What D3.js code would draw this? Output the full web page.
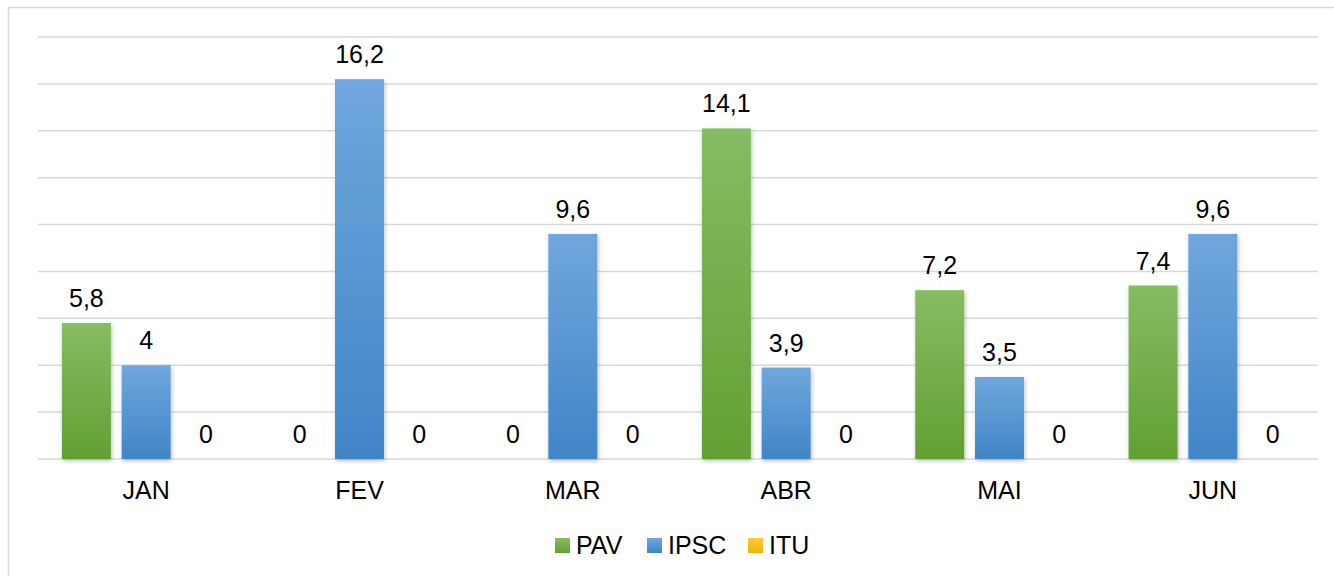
<!DOCTYPE html>
<html>
<head>
<meta charset="utf-8">
<script src="https://cdn.jsdelivr.net/npm/d3@7"></script>
<style>
  body { margin: 0; background: #fff; }
  svg { display: block; font-family: 'Liberation Sans', Arial, sans-serif; }
</style>
</head>
<body>
<div id="chart-area"></div>
<script>
// data
var months = ['JAN', 'FEV', 'MAR', 'ABR', 'MAI', 'JUN'];
var series = ['PAV', 'IPSC', 'ITU'];
var pav  = [5.8, 0, 0, 14.1, 7.2, 7.4];
var ipsc = [4, 16.2, 9.6, 3.9, 3.5, 9.6];
var itu  = [0, 0, 0, 0, 0, 0];
var yTicks = [0, 2, 4, 6, 8, 10, 12, 14, 16, 18];

var values = { PAV: pav, IPSC: ipsc, ITU: itu };
var colors = {
  PAV:  ['#86bc63', '#62a033'],
  IPSC: ['#70a7dd', '#4085c7'],
  ITU:  ['#ffcb3c', '#f0b400']
};

var W = 1334, H = 576;

var svg = d3.select('#chart-area')
  .append('svg')
    .attr('width', W)
    .attr('height', H);

var defs = svg.append('defs');
series.forEach(function(s) {
  var g = defs.append('linearGradient')
    .attr('id', 'grad-' + s)
    .attr('x1', 0).attr('y1', 0).attr('x2', 0).attr('y2', 1);
  g.append('stop').attr('offset', '0%').attr('stop-color', colors[s][0]);
  g.append('stop').attr('offset', '100%').attr('stop-color', colors[s][1]);
});
defs.append('filter')
    .attr('id', 'shadow')
    .attr('x', '-20%').attr('y', '-5%').attr('width', '150%').attr('height', '115%')
  .append('feDropShadow')
    .attr('dx', 1).attr('dy', 2)
    .attr('stdDeviation', 2)
    .attr('flood-color', '#000')
    .attr('flood-opacity', 0.25);

// outer border
svg.append('rect')
  .attr('x', 8.5).attr('y', 7.5)
  .attr('width', W + 20).attr('height', H + 20)
  .attr('fill', 'none')
  .attr('stroke', '#d9d9d9')
  .attr('stroke-width', 1.5);

// scales
var x0 = d3.scaleBand()
  .domain(months)
  .range([39.5, 1319.5])
  .paddingInner(0.21)
  .paddingOuter(0.105);

var x1 = d3.scaleBand()
  .domain(series)
  .range([0, x0.bandwidth()])
  .paddingInner(0.18);

var y = d3.scaleLinear()
  .domain([0, 18])
  .range([459, 37]);

// gridlines
svg.append('g')
  .selectAll('line')
  .data(yTicks)
  .enter().append('line')
    .attr('x1', 38).attr('x2', 1318)
    .attr('y1', function(d) { return y(d); })
    .attr('y2', function(d) { return y(d); })
    .attr('stroke', '#d9d9d9')
    .attr('stroke-width', 1.5);

// bars
var rows = [];
months.forEach(function(m, i) {
  series.forEach(function(s) {
    rows.push({ month: m, series: s, value: values[s][i] });
  });
});

svg.append('g')
  .selectAll('rect')
  .data(rows.filter(function(d) { return d.value > 0; }))
  .enter().append('rect')
    .attr('x', function(d) { return x0(d.month) + x1(d.series); })
    .attr('y', function(d) { return y(d.value); })
    .attr('width', x1.bandwidth())
    .attr('height', function(d) { return y(0) - y(d.value); })
    .attr('fill', function(d) { return 'url(#grad-' + d.series + ')'; })
    .attr('filter', 'url(#shadow)');

// value labels
svg.append('g')
  .selectAll('text')
  .data(rows)
  .enter().append('text')
    .attr('x', function(d) { return x0(d.month) + x1(d.series) + x1.bandwidth() / 2; })
    .attr('y', function(d) { return y(d.value) - 16; })
    .attr('text-anchor', 'middle')
    .attr('font-size', '25px')
    .attr('fill', '#000')
    .text(function(d) { return String(d.value).replace('.', ','); });

// x axis labels
svg.append('g')
  .selectAll('text')
  .data(months)
  .enter().append('text')
    .attr('x', function(d) { return x0(d) + x0.bandwidth() / 2; })
    .attr('y', 499)
    .attr('text-anchor', 'middle')
    .attr('font-size', '25px')
    .attr('fill', '#000')
    .text(function(d) { return d; });

// legend
var legendX = { PAV: 555, IPSC: 647, ITU: 748 };
var legend = svg.append('g')
  .selectAll('g')
  .data(series)
  .enter().append('g')
    .attr('transform', function(d) { return 'translate(' + legendX[d] + ', 538)'; });

legend.append('rect')
  .attr('width', 15).attr('height', 15)
  .attr('fill', function(d) { return 'url(#grad-' + d + ')'; });

legend.append('text')
  .attr('x', 21)
  .attr('y', 15.5)
  .attr('font-size', '25px')
  .attr('fill', '#000')
  .text(function(d) { return d; });
</script>
</body>
</html>
